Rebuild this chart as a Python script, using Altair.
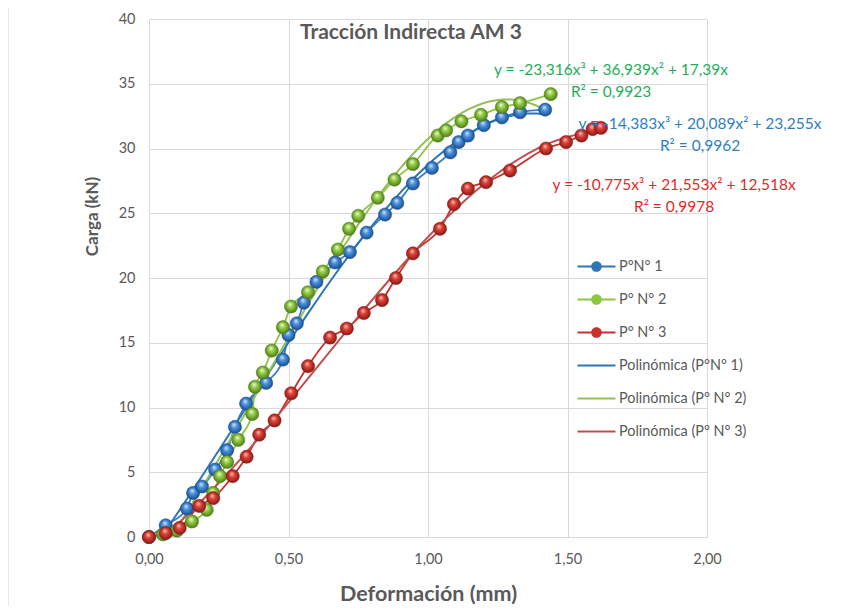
import altair as alt
import pandas as pd

# ---------------- data ----------------
series_names = ["P°N° 1", "P° N° 2", "P° N° 3"]
trend_names = ["Polinómica (P°N° 1)", "Polinómica (P° N° 2)", "Polinómica (P° N° 3)"]

x_p1 = [0.00, 0.06, 0.136, 0.158, 0.19, 0.237, 0.28, 0.308, 0.348, 0.42, 0.48, 0.50, 0.53, 0.555,
        0.60, 0.667, 0.72, 0.78, 0.846, 0.89, 0.946, 1.014, 1.08, 1.11, 1.143, 1.20, 1.265, 1.33, 1.42]
y_p1 = [0.0, 0.9, 2.2, 3.4, 3.9, 5.2, 6.7, 8.5, 10.3, 11.9, 13.7, 15.6, 16.5, 18.1,
        19.7, 21.2, 22.0, 23.5, 24.9, 25.8, 27.3, 28.5, 29.7, 30.5, 31.0, 31.8, 32.4, 32.8, 33.0]

x_p2 = [0.00, 0.05, 0.10, 0.154, 0.207, 0.23, 0.255, 0.28, 0.32, 0.37, 0.38, 0.408, 0.44, 0.48, 0.509,
        0.57, 0.623, 0.677, 0.717, 0.75, 0.82, 0.88, 0.946, 1.035, 1.065, 1.12, 1.19, 1.265, 1.33, 1.44]
y_p2 = [0.0, 0.2, 0.5, 1.2, 2.1, 3.4, 4.7, 5.8, 7.5, 9.5, 11.6, 12.7, 14.4, 16.2, 17.8,
        18.9, 20.5, 22.2, 23.8, 24.8, 26.2, 27.6, 28.8, 31.0, 31.4, 32.1, 32.6, 33.2, 33.5, 34.2]

x_p3 = [0.00, 0.06, 0.11, 0.18, 0.23, 0.30, 0.35, 0.395, 0.45, 0.51, 0.57, 0.649, 0.709, 0.77,
        0.835, 0.885, 0.946, 1.043, 1.093, 1.143, 1.208, 1.294, 1.423, 1.495, 1.55, 1.59, 1.62]
y_p3 = [0.0, 0.3, 0.7, 2.4, 3.0, 4.7, 6.2, 7.9, 9.0, 11.1, 13.2, 15.4, 16.1, 17.3,
        18.3, 20.0, 21.9, 23.8, 25.7, 26.9, 27.4, 28.3, 30.0, 30.5, 31.0, 31.5, 31.6]

equations = ["y = -14,383x³ + 20,089x² + 23,255x",
             "y = -23,316x³ + 36,939x² + 17,39x",
             "y = -10,775x³ + 21,553x² + 12,518x"]
r_squared = ["R² = 0,9962", "R² = 0,9923", "R² = 0,9978"]

x_ticks = [0, 0.5, 1.0, 1.5, 2.0]
y_ticks = [0, 5, 10, 15, 20, 25, 30, 35, 40]

rows = []
for name, xs, ys in zip(series_names, [x_p1, x_p2, x_p3], [y_p1, y_p2, y_p3]):
    for xv, yv in zip(xs, ys):
        rows.append({"serie": name, "x": xv, "y": yv})
df = pd.DataFrame(rows)

# ---------------- styles ----------------
TXT = "#595959"
GRID = "#d9d9d9"
FONT = "Lato"

data_line_colors = ["#3a7dc9", "#8dc63f", "#c9302c"]
trend_line_colors = ["#2e75b6", "#92c05a", "#c0504d"]
legend_colors = ["#2e75b6", "#8dc63f", "#c9302c", "#2e75b6", "#92c05a", "#c0504d"]
eq_colors = ["#2f7fbf", "#1fae5a", "#e02b2b"]
ball_stops = [
    ["#d8e9fa", "#4b90dc", "#1f5a9e", "#153c6b"],
    ["#f0fadb", "#94cc45", "#5a8a1f", "#3d6112"],
    ["#f8c4bf", "#dc4036", "#98201a", "#6b1410"],
]
ball_strokes = ["#1d4f86", "#4f7a1a", "#7d1a14"]

domain = series_names + trend_names

X = alt.X("x:Q", scale=alt.Scale(domain=[0, 2]),
          axis=alt.Axis(values=x_ticks, title="Deformación (mm)",
                        labelExpr="replace(format(datum.value, '.2f'), '.', ',')",
                        grid=True, gridColor=GRID, domain=False, ticks=False, labelFlush=False,
                        labelPadding=15, labelFontSize=14.5, labelColor=TXT, labelFont=FONT,
                        titleFontSize=21.5, titleFont=FONT, titleFontWeight="bold", titleColor=TXT,
                        titleY=57, titleBaseline="middle"))
Y = alt.Y("y:Q", scale=alt.Scale(domain=[0, 40]),
          axis=alt.Axis(values=y_ticks, title="Carga (kN)",
                        grid=True, gridColor=GRID, domain=False, ticks=False,
                        labelPadding=14, labelFontSize=14.5, labelColor=TXT, labelFont=FONT,
                        titleFontSize=17, titleFont=FONT, titleFontWeight="bold", titleColor=TXT,
                        titleX=-57, titleY=197, titleBaseline="middle"))

# legend symbols: filled paths (thin bar, or thin bar + ball)
bar_path = "M-2,-0.1L2,-0.1L2,0.1L-2,0.1Z"
ball_path = bar_path + "M-0.56,0A0.56,0.56 0 1,1 0.56,0A0.56,0.56 0 1,1 -0.56,0Z"
legend_shapes = [ball_path, ball_path, ball_path, bar_path, bar_path, bar_path]

legend = alt.Legend(
    title=None, orient="none", legendX=438, legendY=238, padding=0,
    symbolSize=361, labelOffset=13, rowPadding=17, symbolStrokeWidth=0,
    symbolOpacity=1, labelFontSize=14.4, labelColor=TXT, labelFont=FONT,
)

base = alt.Chart(df)

data_lines = []
trend_lines = []
balls = []
for name, lc, tc, stops, sc in zip(series_names, data_line_colors, trend_line_colors,
                                   ball_stops, ball_strokes):
    sub = base.transform_filter(alt.datum.serie == name)
    data_lines.append(
        sub.mark_line(interpolate="monotone", strokeWidth=1.8, color=lc).encode(x=X, y=Y))
    trend_lines.append(
        sub.transform_regression("x", "y", method="poly", order=3)
        .mark_line(strokeWidth=2, clip=True, color=tc).encode(x=X, y=Y))
    grad = alt.RadialGradient(
        gradient="radial",
        stops=[alt.GradientStop(color=stops[0], offset=0),
               alt.GradientStop(color=stops[1], offset=0.4),
               alt.GradientStop(color=stops[2], offset=0.85),
               alt.GradientStop(color=stops[3], offset=1)],
        x1=0.42, y1=0.3, r1=0, x2=0.5, y2=0.5, r2=0.55)
    balls.append(
        sub.mark_circle(size=175, opacity=1, fill=grad, stroke=sc, strokeWidth=0.5)
        .encode(x=X, y=Y))

legend_df = pd.DataFrame({"entrada": domain})
legend_layer = alt.Chart(legend_df).mark_point(
    filled=True, opacity=0, size=361, strokeWidth=0
).encode(
    x=alt.value(0), y=alt.value(0),
    fill=alt.Fill("entrada:N", scale=alt.Scale(domain=domain, range=legend_colors), legend=legend),
    shape=alt.Shape("entrada:N", scale=alt.Scale(domain=domain, range=legend_shapes), legend=legend),
)

ann = alt.Chart(pd.DataFrame({"k": [0]}))
eq_pos = [(1.975, 31.9), (1.656, 36.1), (1.882, 27.2)]
texts = []
for eq, r2, col, (px, py) in zip(equations, r_squared, eq_colors, eq_pos):
    texts.append(
        ann.mark_text(align="center", baseline="middle", fontSize=15.5, font=FONT,
                      color=col, lineHeight=22)
        .encode(x=alt.datum(px), y=alt.datum(py), text=alt.value([eq, r2]))
    )

frame = ann.mark_rule(color=GRID, strokeWidth=1.2).encode(
    x=alt.value(-141), y=alt.value(-12), y2=alt.value(600))
frame_top = ann.mark_rule(color=GRID, strokeWidth=1.2).encode(
    x=alt.value(-141), x2=alt.value(720), y=alt.value(-12))

chart = alt.layer(
    frame, frame_top, *data_lines, *trend_lines, legend_layer, *balls, *texts
).properties(
    width=558, height=518,
    autosize="none",
    padding={"left": 141, "top": 11, "right": 147, "bottom": 69},
    title=alt.Title("Tracción Indirecta AM 3", anchor="start", frame="group",
                    dx=151, dy=37, baseline="top", fontSize=21, font=FONT,
                    fontWeight="bold", color=TXT, offset=0),
).configure_view(stroke=None)

chart.save("out.html", embed_options={"renderer": "svg", "actions": False})
